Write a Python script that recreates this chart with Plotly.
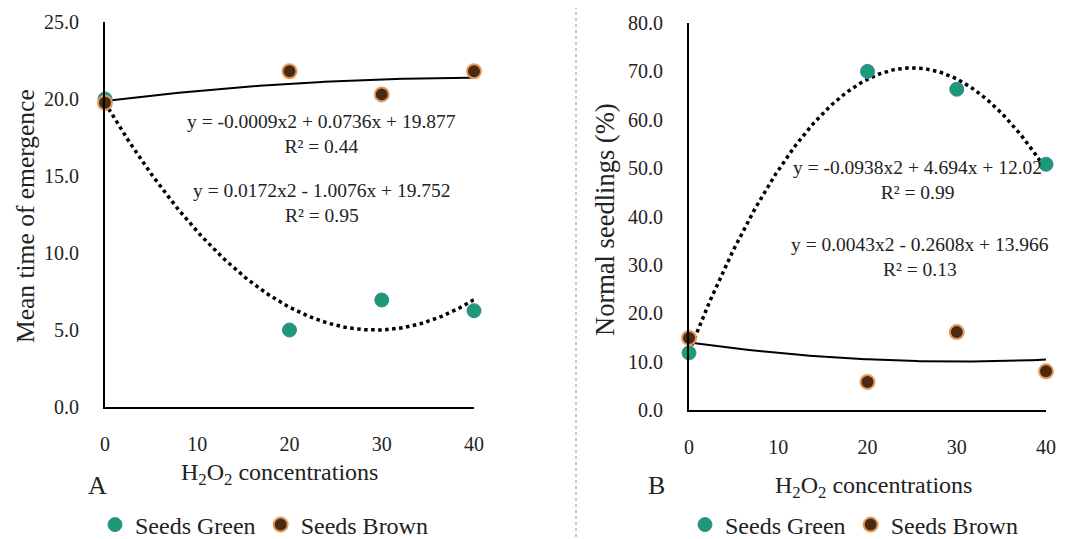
import numpy as np
import plotly.graph_objects as go

# ---- data ----
conc = [0, 20, 30, 40]
mte_green = [20.0, 5.0, 6.95, 6.25]
mte_brown = [19.75, 21.8, 20.3, 21.8]
ns_green = [11.8, 70.0, 66.3, 50.8]
ns_brown = [14.9, 5.8, 16.1, 8.0]

# printed trendline coefficients (a, b, c) for y = a x^2 + b x + c
mte_green_coef = [0.0172, -1.0076, 19.752]
mte_brown_coef = [-0.0009, 0.0736, 19.877]
ns_green_coef = [-0.0938, 4.694, 12.02]
ns_brown_coef = [0.0043, -0.2608, 13.966]

eq_labels_A = ["y = -0.0009x2 + 0.0736x + 19.877<br>R² = 0.44",
               "y = 0.0172x2 - 1.0076x + 19.752<br>R² = 0.95"]
eq_labels_B = ["y = -0.0938x2 + 4.694x + 12.02<br>R² = 0.99",
               "y = 0.0043x2 - 0.2608x + 13.966<br>R² = 0.13"]

W, H = 1083, 539
OFF = 8  # page body margin
FONT = "Times New Roman, Liberation Serif, serif"
GREEN = "#1d9a74"
GREEN_LINE = "#3a86a8"
BROWN = "#4b2a14"
BROWN_LINE = "#e59a5a"
TXT = "#222222"

xs = np.linspace(0, 40, 161)
def poly(c):
    return c[0] * xs ** 2 + c[1] * xs + c[2]

def px(x):
    return (x - OFF) / W
def py(y):
    return 1 - (y - OFF) / H

fig = go.Figure()

# Panel A
fig.add_trace(go.Scatter(x=xs, y=poly(mte_brown_coef), mode="lines",
                         line=dict(color="black", width=2), showlegend=False,
                         xaxis="x", yaxis="y", hoverinfo="skip"))
fig.add_trace(go.Scatter(x=xs, y=poly(mte_green_coef), mode="lines",
                         line=dict(color="black", width=3.5, dash="dot"), showlegend=False,
                         xaxis="x", yaxis="y", hoverinfo="skip"))
fig.add_trace(go.Scatter(x=conc, y=mte_green, mode="markers", name="Seeds Green",
                         marker=dict(color=GREEN, size=14, line=dict(color=GREEN_LINE, width=1)),
                         xaxis="x", yaxis="y", cliponaxis=False, legend="legend"))
fig.add_trace(go.Scatter(x=conc, y=mte_brown, mode="markers", name="Seeds Brown",
                         marker=dict(color=BROWN, size=14, line=dict(color=BROWN_LINE, width=2)),
                         xaxis="x", yaxis="y", cliponaxis=False, legend="legend"))

# Panel B
fig.add_trace(go.Scatter(x=xs, y=poly(ns_brown_coef), mode="lines",
                         line=dict(color="black", width=2), showlegend=False,
                         xaxis="x2", yaxis="y2", hoverinfo="skip"))
fig.add_trace(go.Scatter(x=xs, y=poly(ns_green_coef), mode="lines",
                         line=dict(color="black", width=3.5, dash="dot"), showlegend=False,
                         xaxis="x2", yaxis="y2", hoverinfo="skip"))
fig.add_trace(go.Scatter(x=conc, y=ns_green, mode="markers", name="Seeds Green",
                         marker=dict(color=GREEN, size=14, line=dict(color=GREEN_LINE, width=1)),
                         xaxis="x2", yaxis="y2", cliponaxis=False, legend="legend2"))
fig.add_trace(go.Scatter(x=conc, y=ns_brown, mode="markers", name="Seeds Brown",
                         marker=dict(color=BROWN, size=14, line=dict(color=BROWN_LINE, width=2)),
                         xaxis="x2", yaxis="y2", cliponaxis=False, legend="legend2"))

tickfont = dict(family=FONT, size=20, color=TXT)
axcommon = dict(showgrid=False, zeroline=False, showline=True, linecolor="black",
                linewidth=2, ticks="", tickfont=tickfont, automargin=False)

legfont = dict(family=FONT, size=24, color=TXT)
fig.update_layout(
    template="none",
    width=W, height=H,
    margin=dict(l=0, r=0, t=0, b=0, autoexpand=False),
    paper_bgcolor="white", plot_bgcolor="white",
    font=dict(family=FONT, color=TXT),
    xaxis=dict(domain=[px(105), px(474)], range=[0, 40], tickvals=[0, 10, 20, 30, 40],
               anchor="y", ticklabelstandoff=18, **axcommon),
    yaxis=dict(domain=[py(407), py(22)], range=[0, 25], tickvals=[0, 5, 10, 15, 20, 25],
               tickformat=".1f", anchor="x", ticklabelstandoff=20, **axcommon),
    xaxis2=dict(domain=[px(689), px(1046)], range=[0, 40], tickvals=[0, 10, 20, 30, 40],
                anchor="y2", ticklabelstandoff=18, **axcommon),
    yaxis2=dict(domain=[py(410), py(23)], range=[0, 80], tickvals=[0, 10, 20, 30, 40, 50, 60, 70, 80],
                tickformat=".1f", anchor="x2", ticklabelstandoff=20, **axcommon),
    legend=dict(orientation="h", x=px(264), y=py(525), xanchor="center", yanchor="middle",
                font=legfont, itemwidth=30,
                bgcolor="rgba(0,0,0,0)", tracegroupgap=0),
    legend2=dict(orientation="h", x=px(854), y=py(525), xanchor="center", yanchor="middle",
                 font=legfont, itemwidth=30,
                 bgcolor="rgba(0,0,0,0)", tracegroupgap=0),
    showlegend=True,
)

# divider
fig.add_shape(type="line", xref="paper", yref="paper", x0=px(576), x1=px(576), y0=py(0), y1=py(539),
              line=dict(color="#b5b5b5", width=1.5, dash="dot"))

ann = []
def txt(x, y, text, size=20, **kw):
    ann.append(dict(x=px(x), y=py(y), xref="paper", yref="paper", text=text, showarrow=False,
                    font=dict(family=FONT, size=size, color=TXT), xanchor="center",
                    yanchor="middle", **kw))

txt(25, 216, "Mean time of emergence", size=25.5, textangle=-90)
txt(605, 220, "Normal seedlings (%)", size=26.5, textangle=-90)
txt(279, 474, "H<sub>2</sub>O<sub>2</sub> concentrations", size=24)
txt(873, 487, "H<sub>2</sub>O<sub>2</sub> concentrations", size=24)
txt(97, 485, "A", size=26)
txt(656, 485, "B", size=26)
txt(321, 134, eq_labels_A[0], size=19.5)
txt(322, 203, eq_labels_A[1], size=19.5)
txt(917, 180, eq_labels_B[0], size=19.5)
txt(920, 257, eq_labels_B[1], size=19.5)
fig.update_layout(annotations=ann)

fig.write_html("out.html")
